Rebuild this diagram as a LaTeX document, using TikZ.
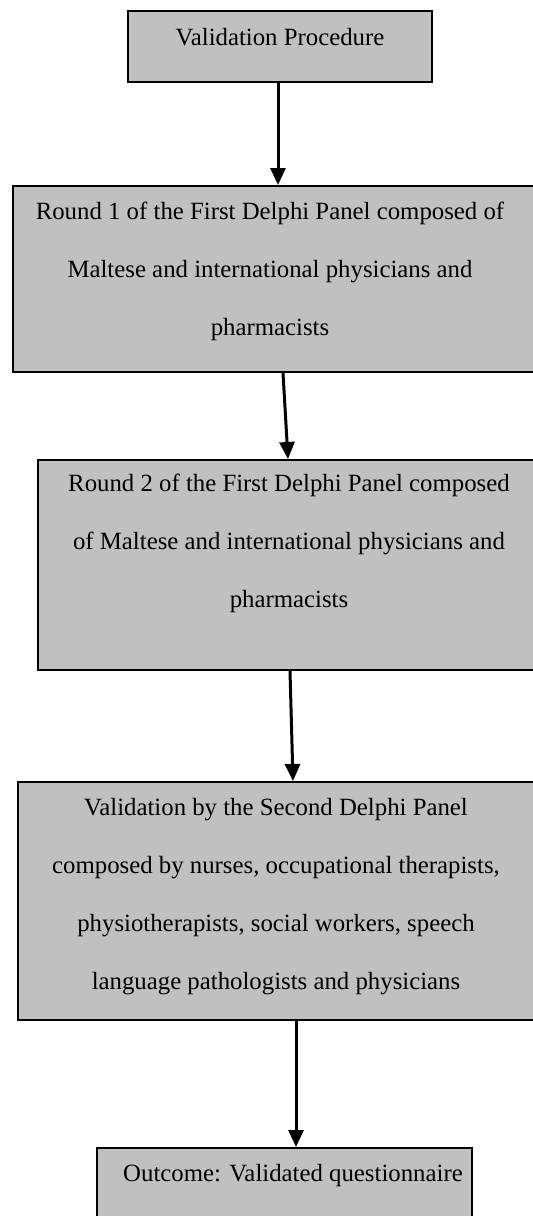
\documentclass[tikz,border=0pt]{standalone}
\usepackage{fontspec}
\setmainfont{Liberation Serif}
\usetikzlibrary{arrows.meta,fit}
\definecolor{boxgray}{HTML}{C0C0C0}
\begin{document}
\begin{tikzpicture}[x=0.5pt,y=-0.5pt,
  box/.style={draw=black, line width=1pt, fill=boxgray, inner sep=0pt},
  lbl/.style={align=center, font=\fontsize{12.4}{29}\selectfont, inner sep=0pt},
  arr/.style={line width=1.5pt, -{Triangle[width=7.5pt,length=8.5pt]}}]
\useasboundingbox (0,0) rectangle (533,1216);
% boxes
\node[box, fit={(128,11) (432,82)}] (b1) {};
\node[box, fit={(13,186) (545,372)}] (b2) {};
\node[box, fit={(38,460) (545,670)}] (b3) {};
\node[box, fit={(18,782) (545,1020)}] (b4) {};
\node[box, fit={(97,1148) (472,1240)}] (b5) {};
% texts
\node[lbl] (t1) at (280,37) {Validation Procedure};
\node[lbl] (t2) at (270,271) {Round 1 of the First Delphi Panel composed of\\Maltese and international physicians and\\pharmacists};
\node[lbl] (t3) at (289,543) {Round 2 of the First Delphi Panel composed\\of Maltese and international physicians and\\pharmacists};
\node[lbl] (t4) at (276,897) {Validation by the Second Delphi Panel\\composed by nurses, occupational therapists,\\physiotherapists, social workers, speech\\language pathologists and physicians};
\node[lbl] (t5) at (293,1176) {Outcome: Validated questionnaire};
% arrow x positions
\coordinate (x1) at (278,0);
\coordinate (x2a) at (283,0);
\coordinate (x2b) at (288,0);
\coordinate (x3a) at (290,0);
\coordinate (x3b) at (293,0);
\coordinate (x4) at (296,0);
\draw[arr] (b1.south -| x1) -- (b2.north -| x1);
\draw[arr] (b2.south -| x2a) -- (b3.north -| x2b);
\draw[arr] (b3.south -| x3a) -- (b4.north -| x3b);
\draw[arr] (b4.south -| x4) -- (b5.north -| x4);
\end{tikzpicture}
\end{document}
